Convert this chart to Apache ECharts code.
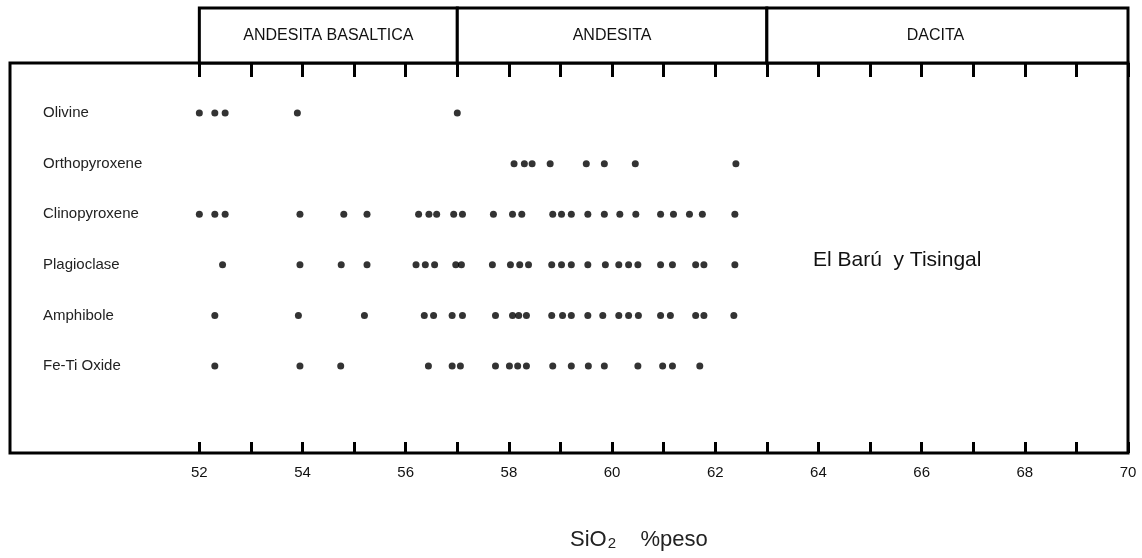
<!DOCTYPE html>
<html>
<head>
<meta charset="utf-8">
<script src="https://cdn.jsdelivr.net/npm/echarts@6/dist/echarts.min.js"></script>
<style>
  html, body { margin: 0; padding: 0; background: #fff; }
  #chart { width: 1142px; height: 558px; }
</style>
</head>
<body>
<div id="chart"></div>
<script>
// ---- data ----
const rowNames = ['Olivine', 'Orthopyroxene', 'Clinopyroxene', 'Plagioclase', 'Amphibole', 'Fe-Ti Oxide'];
const olivine = [52.0, 52.3, 52.5, 53.9, 57.0];
const orthopyroxene = [58.1, 58.3, 58.45, 58.8, 59.5, 59.85, 60.45, 62.4];
const clinopyroxene = [52.0, 52.3, 52.5, 53.95, 54.8, 55.25, 56.25, 56.45, 56.6, 56.93, 57.1, 57.7,
  58.07, 58.25, 58.85, 59.02, 59.21, 59.53, 59.85, 60.15, 60.46, 60.94, 61.19, 61.5, 61.75, 62.38];
const plagioclase = [52.45, 53.95, 54.75, 55.25, 56.2, 56.38, 56.56, 56.97, 57.08, 57.68, 58.03, 58.21, 58.38,
  58.83, 59.02, 59.21, 59.53, 59.87, 60.13, 60.32, 60.5, 60.94, 61.17, 61.62, 61.78, 62.38];
const amphibole = [52.3, 53.92, 55.2, 56.36, 56.54, 56.9, 57.1, 57.74, 58.07, 58.19, 58.34, 58.83, 59.04,
  59.21, 59.53, 59.82, 60.13, 60.32, 60.51, 60.94, 61.13, 61.62, 61.78, 62.36];
const feTiOxide = [52.3, 53.95, 54.74, 56.44, 56.9, 57.06, 57.74, 58.01, 58.17, 58.34, 58.85, 59.21, 59.54,
  59.85, 60.5, 60.98, 61.17, 61.7];
const rows = [olivine, orthopyroxene, clinopyroxene, plagioclase, amphibole, feTiOxide];

const fields = [
  { name: 'ANDESITA BASALTICA', from: 52, to: 57 },
  { name: 'ANDESITA', from: 57, to: 63 },
  { name: 'DACITA', from: 63, to: 70 }
];
const tickValues = [52, 53, 54, 55, 56, 57, 58, 59, 60, 61, 62, 63, 64, 65, 66, 67, 68, 69, 70];
const labelValues = [52, 54, 56, 58, 60, 62, 64, 66, 68, 70];
const rowValues = [0, 1, 2, 3, 4, 5];
const xMin = 48.33, xMax = 70;

const FONT = '"Liberation Sans", Arial, Helvetica, sans-serif';
const chart = echarts.init(document.getElementById('chart'), null, { renderer: 'canvas' });

const scatterSeries = rows.map((vals, i) => ({
  name: rowNames[i],
  type: 'scatter',
  xAxisIndex: 0,
  yAxisIndex: 0,
  symbol: 'circle',
  symbolSize: 7,
  itemStyle: { color: '#000' },
  silent: true,
  data: vals.map(v => [v, i])
}));

const option = {
  animation: false,
  backgroundColor: '#fff',
  title: [
    {
      text: 'El Barú  y Tisingal',
      left: 813, top: 250, padding: 0,
      textStyle: { fontFamily: FONT, fontSize: 21, fontWeight: 'normal', color: '#111' }
    },
    {
      text: '{a|SiO}{b|2}{a|    %peso}',
      left: 570, top: 528, padding: 0,
      textStyle: {
        fontFamily: FONT, fontWeight: 'normal', color: '#222',
        rich: {
          a: { fontFamily: FONT, fontSize: 22, color: '#222' },
          b: { fontFamily: FONT, fontSize: 15, color: '#222', verticalAlign: 'bottom', padding: [8, 0, 0, 1] }
        }
      }
    }
  ],
  grid: [
    { left: 10, right: 14, top: 63, bottom: 105, show: true, borderColor: '#000', borderWidth: 3, backgroundColor: 'transparent' },
    { left: 10, right: 14, top: 8, height: 55, show: false }
  ],
  xAxis: [
    {
      type: 'value', gridIndex: 0, position: 'bottom', min: xMin, max: xMax,
      axisLine: { show: false, onZero: false },
      splitLine: { show: false },
      axisTick: { show: true, inside: true, length: 11, customValues: tickValues, lineStyle: { color: '#000', width: 3 } },
      axisLabel: { show: true, customValues: labelValues, margin: 12, fontFamily: FONT, fontSize: 15, color: '#111' }
    },
    {
      type: 'value', gridIndex: 0, position: 'top', min: xMin, max: xMax,
      axisLine: { show: false, onZero: false },
      splitLine: { show: false },
      axisTick: { show: true, inside: true, length: 14, customValues: tickValues, lineStyle: { color: '#000', width: 3 } },
      axisLabel: { show: false }
    },
    {
      type: 'value', gridIndex: 1, min: xMin, max: xMax, show: false
    }
  ],
  yAxis: [
    {
      type: 'value', gridIndex: 0, inverse: true, min: -0.99, max: 6.72,
      axisLine: { show: false, onZero: false },
      axisTick: { show: false },
      splitLine: { show: false },
      axisLabel: {
        show: true, inside: true, margin: 33, customValues: rowValues,
        formatter: v => rowNames[Math.round(v)] || '',
        fontFamily: FONT, fontSize: 15, color: '#222'
      }
    },
    { type: 'value', gridIndex: 1, min: 0, max: 1, show: false }
  ],
  series: scatterSeries.concat([
    {
      type: 'custom',
      xAxisIndex: 2,
      yAxisIndex: 1,
      silent: true,
      data: fields.map(f => [f.from, f.to]),
      renderItem: function (params, api) {
        const p0 = api.coord([api.value(0), 1]);
        const p1 = api.coord([api.value(1), 0]);
        const f = fields[params.dataIndex];
        return {
          type: 'group',
          children: [
            {
              type: 'rect',
              shape: { x: p0[0], y: p0[1], width: p1[0] - p0[0], height: p1[1] - p0[1] },
              style: { fill: '#fff', stroke: '#000', lineWidth: 3 }
            },
            {
              type: 'text',
              style: {
                text: f.name,
                x: (p0[0] + p1[0]) / 2 + (f.name === 'DACITA' ? -12 : 0),
                y: (p0[1] + p1[1]) / 2,
                align: 'center', verticalAlign: 'middle',
                font: '16px ' + FONT,
                fill: '#111'
              }
            }
          ]
        };
      }
    }
  ])
};
chart.setOption(option);
</script>
</body>
</html>
